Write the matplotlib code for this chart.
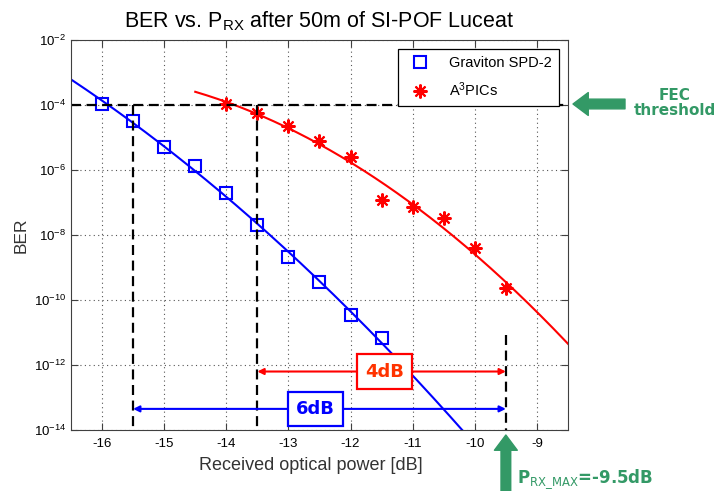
import numpy as np
import matplotlib
matplotlib.use("Agg")
import matplotlib.pyplot as plt

plt.rcParams['font.family'] = ['Liberation Sans', 'DejaVu Sans']
plt.rcParams['mathtext.default'] = 'regular'

# measured BER vs received optical power
power_graviton = [-16, -15.5, -15, -14.5, -14, -13.5, -13, -12.5, -12, -11.5]
ber_graviton = [1.07e-4, 3.2e-5, 5.1e-6, 1.3e-6, 1.95e-7, 2.0e-8, 2.1e-9, 3.5e-10, 3.5e-11, 6.8e-12]
power_a3pics = [-14, -13.5, -13, -12.5, -12, -11.5, -11, -10.5, -10, -9.5]
ber_a3pics = [1.07e-4, 5.6e-5, 2.3e-5, 7.8e-6, 2.45e-6, 1.2e-7, 7.4e-8, 3.3e-8, 4.0e-9, 2.3e-10]

# reference levels
fec_ber = 1e-4
p_rx_max = -9.5
sens_graviton = -15.5
sens_a3pics = -13.5

xticks = [-16, -15, -14, -13, -12, -11, -10, -9]
yticks = [1e-2, 1e-4, 1e-6, 1e-8, 1e-10, 1e-12, 1e-14]

green = '#339966'

fig = plt.figure(figsize=(7.23, 4.91), dpi=100)
ax = fig.add_axes([0.0982, 0.1242, 0.6874, 0.7943])

# quadratic fits in log domain
fit_b = np.polyfit(power_graviton, np.log10(ber_graviton), 2)
fit_r = np.polyfit(power_a3pics, np.log10(ber_a3pics), 2)
xb = np.linspace(-16.5, -8.5, 300)
xr = np.linspace(-14.5, -8.5, 300)
ax.plot(xb, 10 ** np.polyval(fit_b, xb), color='blue', lw=1.5)
ax.plot(xr, 10 ** np.polyval(fit_r, xr), color='red', lw=1.5)

ax.plot(power_graviton, ber_graviton, ls='none', marker='s', ms=9, mfc='none',
        mec='blue', mew=1.5, label='Graviton SPD-2')
ax.plot(power_a3pics, ber_a3pics, ls='none', marker=(8, 2, 0), ms=10,
        mec='red', mew=1.5, label='A$^{3}$PICs')

# dashed guide lines
dash = dict(color='black', lw=1.6, dashes=(4.5, 2.5))
ax.axhline(fec_ber, **dash)
ax.plot([sens_graviton, sens_graviton], [fec_ber, 1e-14], **dash)
ax.plot([sens_a3pics, sens_a3pics], [fec_ber, 1e-14], **dash)
ax.plot([p_rx_max, p_rx_max], [10 ** -11.08, 1e-14], **dash)

# power margin arrows
y4, y6 = 10 ** -12.2, 10 ** -13.35
ax.annotate('', xy=(sens_a3pics, y4), xytext=(p_rx_max, y4),
            arrowprops=dict(arrowstyle='<|-|>', color='red', lw=1.5,
                            mutation_scale=9, shrinkA=0, shrinkB=0))
ax.annotate('', xy=(sens_graviton, y6), xytext=(p_rx_max, y6),
            arrowprops=dict(arrowstyle='<|-|>', color='blue', lw=1.5,
                            mutation_scale=9, shrinkA=0, shrinkB=0))
ax.text(-11.45, y4, '%ddB' % (p_rx_max - sens_a3pics), ha='center', va='center',
        color='#ff3300', fontsize=13, fontweight='bold', family='DejaVu Sans',
        bbox=dict(boxstyle='square,pad=0.45', fc='white', ec='red', lw=1.6))
ax.text(-12.57, y6, '%ddB' % (p_rx_max - sens_graviton), ha='center', va='center',
        color='blue', fontsize=13, fontweight='bold', family='DejaVu Sans',
        bbox=dict(boxstyle='square,pad=0.45', fc='white', ec='blue', lw=1.6))

ax.set_yscale('log')
ax.set_xlim(-16.5, -8.5)
ax.set_ylim(1e-14, 1e-2)
ax.set_xticks(xticks)
ax.set_xticklabels([str(t) for t in xticks])
ax.set_yticks(yticks)
ax.minorticks_off()
ax.tick_params(direction='in', top=True, right=True, length=5, labelsize=9.5,
               color='#404040')
ax.tick_params(axis='x', pad=6)
ax.grid(True, color='#555555', ls=(0, (1, 3)), lw=0.8)
for s in ax.spines.values():
    s.set_color('#404040')

ax.set_title('BER vs. P$_{RX}$ after 50m of SI-POF Luceat', fontsize=15.5, pad=9)
ax.set_xlabel('Received optical power [dB]', fontsize=13, color='#333333')
ax.xaxis.set_label_coords(0.482, -0.07)
ax.set_ylabel('BER', fontsize=12.5, color='#333333', labelpad=4)

leg = ax.legend(loc='upper right', fontsize=10.5, fancybox=False, framealpha=1,
                edgecolor='black', borderaxespad=0.6, handletextpad=1.0,
                labelspacing=0.7, borderpad=0.5)
leg.get_frame().set_linewidth(0.9)

# annotations outside the axes
ax.annotate('', xy=(573, 387), xycoords='figure pixels',
            xytext=(625, 387), textcoords='figure pixels',
            arrowprops=dict(arrowstyle='simple,head_length=1.1,head_width=1.65,tail_width=0.7',
                            color=green, mutation_scale=10, shrinkA=0, shrinkB=0),
            annotation_clip=False)
fig.text(675, 388, 'FEC\nthreshold', transform=None, ha='center', va='center',
         color=green, fontsize=11, fontweight='bold', family='DejaVu Sans',
         linespacing=1.05)
ax.annotate('', xy=(p_rx_max, 56), xycoords=('data', 'figure pixels'),
            xytext=(p_rx_max, -2), textcoords=('data', 'figure pixels'),
            arrowprops=dict(arrowstyle='simple,head_length=1.1,head_width=1.65,tail_width=0.7',
                            color=green, mutation_scale=10, shrinkA=0, shrinkB=0),
            annotation_clip=False)
fig.text(517, 8, r'P$_{\mathrm{RX\_MAX}}$=%.1fdB' % p_rx_max, transform=None,
         ha='left', va='baseline', color=green, fontsize=12, fontweight='bold',
         family='DejaVu Sans')

fig.savefig('out.png', dpi=100)
